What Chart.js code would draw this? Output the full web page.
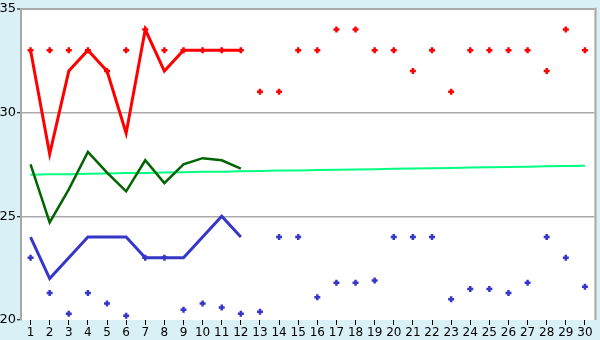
<!DOCTYPE html>
<html>
<head>
<meta charset="utf-8">
<script src="https://cdn.jsdelivr.net/npm/chart.js@4"></script>
<style>
  html, body { margin: 0; padding: 0; background: #d9f0f6; }
  #box { width: 600px; height: 340px; }
</style>
</head>
<body>
<div id="box"><canvas id="graf" width="600" height="340"></canvas></div>
<script>
let categorias = ['1','2','3','4','5','6','7','8','9','10','11','12','13','14','15','16','17','18','19','20','21','22','23','24','25','26','27','28','29','30']
let yTicks = [20, 25, 30, 35]

// linhas (so os 12 primeiros dias)
let linhaVermelha = [33, 28, 32, 33, 32, 29, 34, 32, 33, 33, 33, 33]
let linhaVerde = [27.5, 24.7, 26.3, 28.1, 27.1, 26.2, 27.7, 26.6, 27.5, 27.8, 27.7, 27.3]
let linhaAzul = [24, 22, 23, 24, 24, 24, 23, 23, 23, 24, 25, 24]

// tendencia (verde claro)
let tendencia = [27.00, 27.02, 27.03, 27.05, 27.06, 27.08, 27.09, 27.11, 27.12, 27.14, 27.15, 27.17, 27.18, 27.20, 27.21, 27.23, 27.24, 27.26, 27.27, 27.29, 27.30, 27.32, 27.33, 27.35, 27.36, 27.38, 27.39, 27.41, 27.42, 27.44]

// pontos soltos
let pontosVermelhos = [33, 33, 33, 33, 32, 33, 34, 33, 33, 33, 33, 33, 31, 31, 33, 33, 34, 34, 33, 33, 32, 33, 31, 33, 33, 33, 33, 32, 34, 33]
let pontosAzuis = [23, 21.3, 20.3, 21.3, 20.8, 20.2, 23, 23, 20.5, 20.8, 20.6, 20.3, 20.4, 24, 24, 21.1, 21.8, 21.8, 21.9, 24, 24, 24, 21, 21.5, 21.5, 21.3, 21.8, 24, 23, 21.6]

const fundo = {
    id: 'fundo',
    beforeDraw(chart) {
        let ctx = chart.ctx
        let a = chart.chartArea
        ctx.save()
        ctx.fillStyle = '#d9f0f6'
        ctx.fillRect(0, 0, chart.width, chart.height)
        ctx.fillStyle = '#ffffff'
        ctx.fillRect(a.left, a.top, a.right - a.left, a.bottom - a.top)
        ctx.restore()
    },
    afterDraw(chart) {
        let ctx = chart.ctx
        let a = chart.chartArea
        ctx.save()
        ctx.strokeStyle = '#a8a8a8'
        ctx.lineWidth = 2
        ctx.beginPath()
        ctx.moveTo(a.right + 1, a.top - 1)
        ctx.lineTo(a.right + 1, a.bottom)
        ctx.stroke()
        ctx.restore()
    }
}

let pontos = { showLine: false, pointStyle: 'cross', pointRadius: 3, pointBorderWidth: 2.5, pointHoverRadius: 3 }

const data = {
    labels: categorias,
    datasets: [
        Object.assign({ data: pontosVermelhos, borderColor: '#ff0000', backgroundColor: '#ff0000' }, pontos),
        Object.assign({ data: pontosAzuis, borderColor: '#3636c8', backgroundColor: '#3636c8' }, pontos),
        { data: linhaVermelha, borderColor: '#ff0000', borderWidth: 3, pointRadius: 0, tension: 0 },
        { data: linhaAzul, borderColor: '#3636c8', borderWidth: 3, pointRadius: 0, tension: 0 },
        { data: linhaVerde, borderColor: '#006400', borderWidth: 2.5, pointRadius: 0, tension: 0 },
        { data: tendencia, borderColor: '#00ff80', borderWidth: 2, pointRadius: 0, tension: 0 }
    ]
}

const config = {
    type: 'line',
    data: data,
    options: {
        responsive: false,
        animation: false,
        layout: { padding: { top: 5, right: 5, left: 0, bottom: 0 } },
        plugins: {
            legend: { display: false },
            tooltip: { enabled: false }
        },
        scales: {
            x: {
                offset: true,
                grid: { display: true, drawOnChartArea: false, drawTicks: true, tickLength: 5, tickColor: '#000000', tickWidth: 1 },
                border: { display: false },
                ticks: { color: '#000000', font: { family: 'DejaVu Sans', size: 12 }, padding: 1, maxRotation: 0, autoSkip: false },
                afterFit(scale) { scale.height = 20 }
            },
            y: {
                min: 20,
                max: 35,
                afterBuildTicks(scale) { scale.ticks = yTicks.map(v => ({ value: v })) },
                grid: {
                    color: c => c.tick && c.tick.value === 20 ? 'rgba(0,0,0,0)' : '#aaaaaa',
                    lineWidth: c => c.tick && c.tick.value === 35 ? 2 : 1.5,
                    tickLength: 4, tickColor: '#000000', tickWidth: 1
                },
                border: { display: true, color: '#a8a8a8', width: 2 },
                ticks: { color: '#000000', font: { family: 'DejaVu Sans', size: 13 }, padding: 1 },
                afterFit(scale) { scale.width = 21 }
            }
        }
    },
    plugins: [fundo]
}

let ctx = document.getElementById('graf').getContext('2d')
let meuGrafico = new Chart(ctx, config)
</script>
</body>
</html>
